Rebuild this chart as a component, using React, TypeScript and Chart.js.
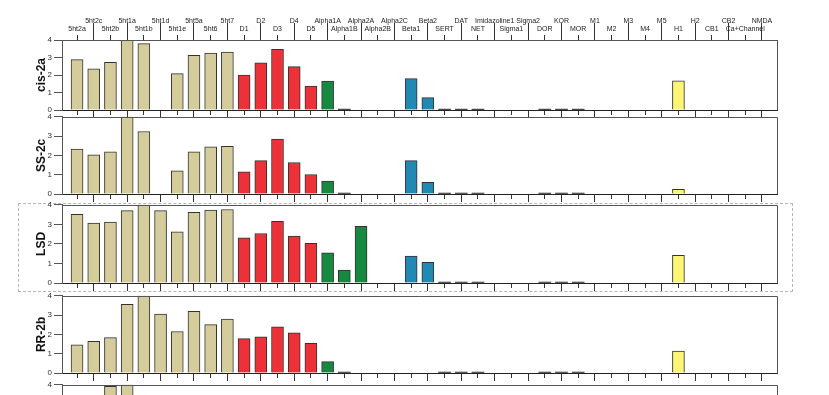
import React, { useEffect, useRef } from 'react';
import { Chart, registerables } from 'chart.js';

Chart.register(...registerables);

const categories = [
  '5ht2a', '5ht2c', '5ht2b', '5ht1a', '5ht1b', '5ht1d', '5ht1e', '5ht5a', '5ht6', '5ht7',
  'D1', 'D2', 'D3', 'D4', 'D5',
  'Alpha1A', 'Alpha1B', 'Alpha2A', 'Alpha2B', 'Alpha2C',
  'Beta1', 'Beta2',
  'SERT', 'DAT', 'NET',
  'Imidazoline1', 'Sigma1', 'Sigma2',
  'DOR', 'KOR', 'MOR',
  'M1', 'M2', 'M3', 'M4', 'M5',
  'H1', 'H2', 'CB1', 'CB2', 'Ca+Channel', 'NMDA',
];

const categoryGroups = [
  'sero', 'sero', 'sero', 'sero', 'sero', 'sero', 'sero', 'sero', 'sero', 'sero',
  'dopa', 'dopa', 'dopa', 'dopa', 'dopa',
  'alpha', 'alpha', 'alpha', 'alpha', 'alpha',
  'beta', 'beta',
  'trans', 'trans', 'trans',
  'other', 'other', 'other',
  'opioid', 'opioid', 'opioid',
  'musc', 'musc', 'musc', 'musc', 'musc',
  'hist', 'hist', 'other', 'other', 'other', 'other',
];

const groupColors: Record<string, string> = {
  sero: '#D5CC9C',
  dopa: '#EC3238',
  alpha: '#14893F',
  beta: '#2288B4',
  trans: '#222222',
  other: '#222222',
  opioid: '#222222',
  musc: '#222222',
  hist: '#FAF575',
};

const _ = null;

const cis2a = [
  2.88, 2.35, 2.73, 4.0, 3.79, _, 2.08, 3.13, 3.25, 3.31,
  2.0, 2.69, 3.46, 2.48, 1.37,
  1.65, 0.05, _, _, _,
  1.79, 0.71,
  0.05, 0.05, 0.05,
  _, _, _,
  0.05, 0.05, 0.05,
  _, _, _, _, _,
  1.67, _, _, _, _, _,
];

const ss2c = [
  2.33, 2.03, 2.18, 4.0, 3.24, _, 1.2, 2.18, 2.44, 2.47,
  1.15, 1.73, 2.85, 1.63, 1.01,
  0.67, 0.05, _, _, _,
  1.73, 0.6,
  0.05, 0.05, 0.05,
  _, _, _,
  0.05, 0.05, 0.05,
  _, _, _, _, _,
  0.24, _, _, _, _, _,
];

const lsd = [
  3.51, 3.07, 3.12, 3.7, 4.0, 3.7, 2.62, 3.61, 3.73, 3.76,
  2.31, 2.53, 3.16, 2.4, 2.03,
  1.54, 0.66, 2.9, _, _,
  1.38, 1.06,
  0.05, 0.05, 0.05,
  _, _, _,
  0.05, 0.05, 0.05,
  _, _, _, _, _,
  1.42, _, _, _, _, _,
];

const rr2b = [
  1.46, 1.64, 1.83, 3.56, 4.0, 3.05, 2.15, 3.2, 2.51, 2.8,
  1.78, 1.88, 2.39, 2.08, 1.54,
  0.59, 0.05, _, _, _,
  _, _,
  0.05, 0.05, 0.05,
  _, _, _,
  0.05, 0.05, 0.05,
  _, _, _, _, _,
  1.14, _, _, _, _, _,
];

const fifthPanel = [
  _, _, 3.92, 4.0, _, _, _, _, _, _,
  _, _, _, _, _,
  _, _, _, _, _,
  _, _,
  _, _, _,
  _, _, _,
  _, _, _,
  _, _, _, _, _,
  _, _, _, _, _, _,
];

const yTicks = [0, 1, 2, 3, 4];

const FONT = '"Liberation Sans", Arial, sans-serif';
const X_MIN = -0.9;
const X_MAX = 41.9;
const W = 829;

const framePlugin = {
  id: 'frame',
  afterDatasetsDraw(chart: any) {
    const { ctx, chartArea } = chart;
    const { left, right, top, bottom } = chartArea;
    ctx.save();
    ctx.strokeStyle = '#555';
    ctx.lineWidth = 1;
    ctx.beginPath();
    const t = Math.round(top) + 0.5;
    const r = Math.round(right) + 0.5;
    ctx.moveTo(left, t);
    ctx.lineTo(r, t);
    ctx.lineTo(r, bottom);
    ctx.stroke();
    ctx.restore();
  },
};

function setIntegerTicks(axis: any) {
  axis.ticks = categories.map((c, i) => ({ value: i }));
}

type PanelProps = {
  label: string;
  values: (number | null)[];
  areaTop: number;
  areaHeight: number;
  topAxis?: boolean;
};

function Panel({ label, values, areaTop, areaHeight, topAxis }: PanelProps) {
  const ref = useRef<HTMLCanvasElement>(null);
  const padTop = topAxis ? 40 : 6;
  const bottomH = 10;
  const canvasTop = areaTop - padTop;
  const h = padTop + areaHeight + bottomH;

  useEffect(() => {
    if (!ref.current) return;
    const scales: any = {
      x: {
        type: 'linear',
        position: 'bottom',
        min: X_MIN,
        max: X_MAX,
        offset: false,
        afterBuildTicks: setIntegerTicks,
        afterFit: (s: any) => { s.height = bottomH; },
        ticks: { display: false },
        grid: {
          offset: false,
          drawOnChartArea: false,
          drawTicks: true,
          tickLength: 8,
          tickColor: '#333',
          tickWidth: 1,
          tickBorderDash: (c: any) => (c.index % 2 === 0 ? [4, 100] : []),
        },
        border: { display: true, color: '#222', width: 1 },
      },
      y: {
        type: 'linear',
        position: 'left',
        min: 0,
        max: 4,
        afterBuildTicks: (axis: any) => { axis.ticks = yTicks.map((v) => ({ value: v })); },
        afterFit: (s: any) => { s.width = 62; },
        ticks: {
          stepSize: 1,
          padding: 2,
          color: '#333',
          font: { family: FONT, size: 8 },
        },
        grid: {
          drawOnChartArea: false,
          drawTicks: true,
          tickLength: 8,
          color: '#555',
          tickColor: '#555',
        },
        border: { display: true, color: '#555', width: 1 },
        title: {
          display: label !== '',
          text: label,
          color: '#111',
          font: { family: FONT, size: 12, weight: 'bold' },
          padding: { top: 34, bottom: 0 },
        },
      },
    };
    if (topAxis) {
      scales.xTop = {
        type: 'linear',
        position: 'top',
        min: X_MIN,
        max: X_MAX,
        offset: false,
        afterBuildTicks: setIntegerTicks,
        afterFit: (s: any) => { s.height = 40; },
        ticks: {
          display: true,
          autoSkip: false,
          maxRotation: 0,
          minRotation: 0,
          padding: -10,
          color: '#222',
          font: { family: FONT, size: 7, lineHeight: '8px' },
          callback: (v: any) => {
            const i = Math.round(Number(v));
            const name = categories[i] ?? '';
            return i % 2 === 1 ? [name, ''] : ['', name];
          },
        },
        grid: {
          offset: false,
          drawOnChartArea: false,
          drawTicks: true,
          tickLength: 17,
          tickColor: '#333',
          tickWidth: 1,
          tickBorderDash: (c: any) => (c.index % 2 === 0 ? [0, 12, 5, 100] : []),
        },
        border: { display: true, color: '#555', width: 1 },
      };
    }

    const chart = new Chart(ref.current, {
      type: 'bar',
      data: {
        datasets: [
          {
            label,
            data: values.map((v, i) => ({ x: i, y: v })) as any,
            xAxisID: 'x',
            yAxisID: 'y',
            barThickness: 12,
            backgroundColor: (c: any) => {
              const v = values[c.dataIndex];
              if (v !== null && v < 0.1) return '#222';
              return groupColors[categoryGroups[c.dataIndex]];
            },
            borderColor: '#333',
            borderWidth: (c: any) => {
              const v = values[c.dataIndex];
              return v !== null && v < 0.1 ? 0 : 1;
            },
          } as any,
        ],
      },
      options: {
        animation: false,
        responsive: false,
        maintainAspectRatio: false,
        layout: { padding: { top: topAxis ? 0 : padTop, right: W - 777, bottom: 0, left: 0 } },
        plugins: {
          legend: { display: false },
          tooltip: { enabled: false },
        },
        scales,
      } as any,
      plugins: [framePlugin],
    });
    return () => chart.destroy();
  }, []);

  return (
    <canvas
      ref={ref}
      width={W}
      height={h}
      style={{ position: 'absolute', left: 0, top: canvasTop, width: W, height: h }}
    />
  );
}

export default function App() {
  return (
    <div
      style={{
        position: 'absolute',
        left: 0,
        top: 0,
        width: W,
        height: 395,
        overflow: 'hidden',
        background: '#fff',
      }}
    >
      <div
        style={{
          position: 'absolute',
          left: 18,
          top: 203,
          width: 775,
          height: 89,
          border: '1px dashed #b5b5b5',
          boxSizing: 'border-box',
          pointerEvents: 'none',
        }}
      />
      <Panel label="cis-2a" values={cis2a} areaTop={40} areaHeight={70} topAxis />
      <Panel label="SS-2c" values={ss2c} areaTop={116} areaHeight={78} />
      <Panel label="LSD" values={lsd} areaTop={204} areaHeight={79} />
      <Panel label="RR-2b" values={rr2b} areaTop={295} areaHeight={78} />
      <Panel label="" values={fifthPanel} areaTop={384} areaHeight={78} />
    </div>
  );
}
